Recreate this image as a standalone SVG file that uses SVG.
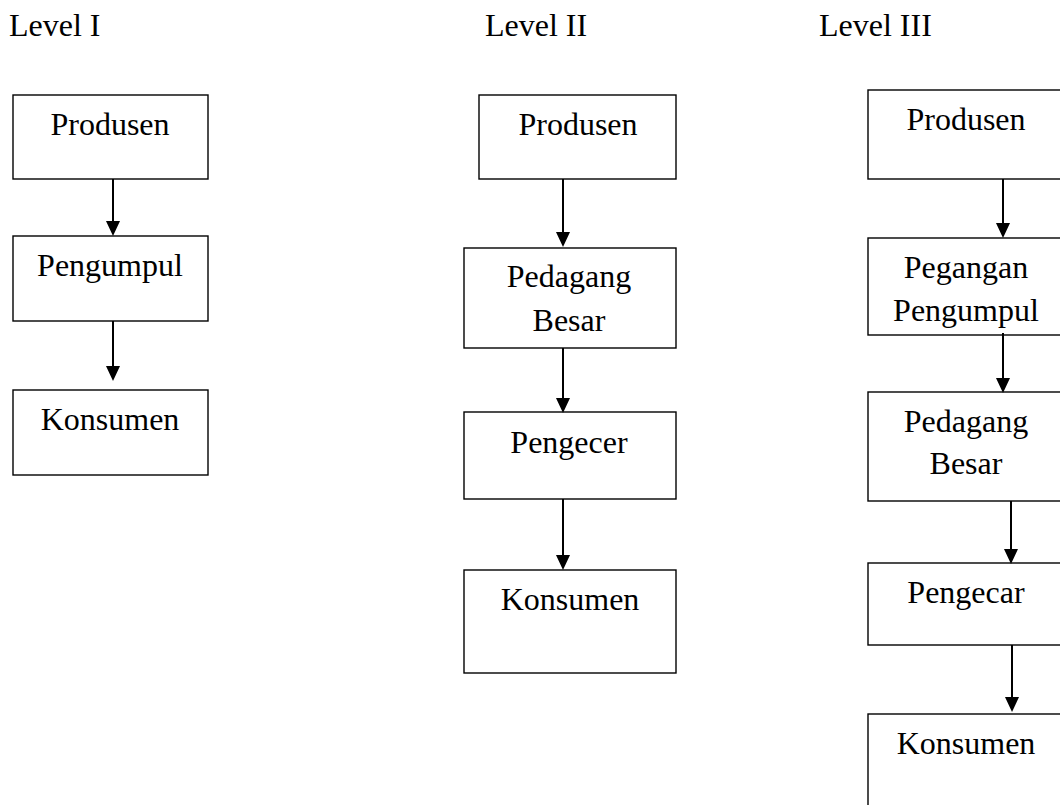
<svg xmlns="http://www.w3.org/2000/svg" width="1060" height="805" viewBox="0 0 1060 805">
<style>
.box{fill:#fff;stroke:#000;stroke-width:1.4}
.t{font-family:"Liberation Serif","Times New Roman",serif;font-size:32px;fill:#000;text-anchor:middle}
.h{font-family:"Liberation Serif","Times New Roman",serif;font-size:32px;fill:#000}
.c{stroke:#000;stroke-width:2;fill:none;marker-end:url(#ah)}
</style>
<defs>
<marker id="ah" viewBox="0 0 15 14" refX="7" refY="7" markerWidth="15" markerHeight="14" markerUnits="userSpaceOnUse" orient="auto">
<path d="M0,0 L15,7 L0,14 z" fill="#000"/>
</marker>
</defs>
<rect width="1060" height="805" fill="#fff"/>
<g id="headers">
<text class="h" x="9" y="36">Level I</text>
<text class="h" x="485" y="36">Level II</text>
<text class="h" x="819" y="36">Level III</text>
</g>
<g id="n1-produsen"><rect class="box" x="13" y="95" width="195" height="84"/><text class="t" x="110" y="135">Produsen</text></g>
<g id="n1-pengumpul"><rect class="box" x="13" y="236" width="195" height="85"/><text class="t" x="110" y="276">Pengumpul</text></g>
<g id="n1-konsumen"><rect class="box" x="13" y="390" width="195" height="85"/><text class="t" x="110" y="430">Konsumen</text></g>

<g id="n2-produsen"><rect class="box" x="479" y="95" width="197" height="84"/><text class="t" x="578" y="135">Produsen</text></g>
<g id="n2-pedagang"><rect class="box" x="464" y="248" width="212" height="100"/><text class="t" x="569" y="287">Pedagang</text><text class="t" x="569" y="331">Besar</text></g>
<g id="n2-pengecer"><rect class="box" x="464" y="412" width="212" height="87"/><text class="t" x="569" y="453">Pengecer</text></g>
<g id="n2-konsumen"><rect class="box" x="464" y="570" width="212" height="103"/><text class="t" x="570" y="610">Konsumen</text></g>

<g id="n3-produsen"><rect class="box" x="868" y="90" width="210" height="89"/><text class="t" x="966" y="130">Produsen</text></g>
<g id="n3-pegangan"><rect class="box" x="868" y="238" width="210" height="97"/><text class="t" x="966" y="278">Pegangan</text><text class="t" x="966" y="321">Pengumpul</text></g>
<g id="n3-pedagang"><rect class="box" x="868" y="392" width="210" height="109"/><text class="t" x="966" y="432">Pedagang</text><text class="t" x="966" y="474">Besar</text></g>
<g id="n3-pengecar"><rect class="box" x="868" y="563" width="210" height="82"/><text class="t" x="966" y="603">Pengecar</text></g>
<g id="n3-konsumen"><rect class="box" x="868" y="714" width="210" height="110"/><text class="t" x="966" y="754">Konsumen</text></g>

<g id="connectors">
<line class="c" x1="113" y1="179" x2="113" y2="228"/>
<line class="c" x1="113" y1="321" x2="113" y2="373"/>
<line class="c" x1="563" y1="179" x2="563" y2="239"/>
<line class="c" x1="563" y1="348" x2="563" y2="405"/>
<line class="c" x1="563" y1="499" x2="563" y2="562"/>
<line class="c" x1="1003" y1="179" x2="1003" y2="230"/>
<line class="c" x1="1003" y1="333" x2="1003" y2="385"/>
<line class="c" x1="1011" y1="501" x2="1011" y2="556"/>
<line class="c" x1="1012" y1="645" x2="1012" y2="704"/>
</g>
</svg>
